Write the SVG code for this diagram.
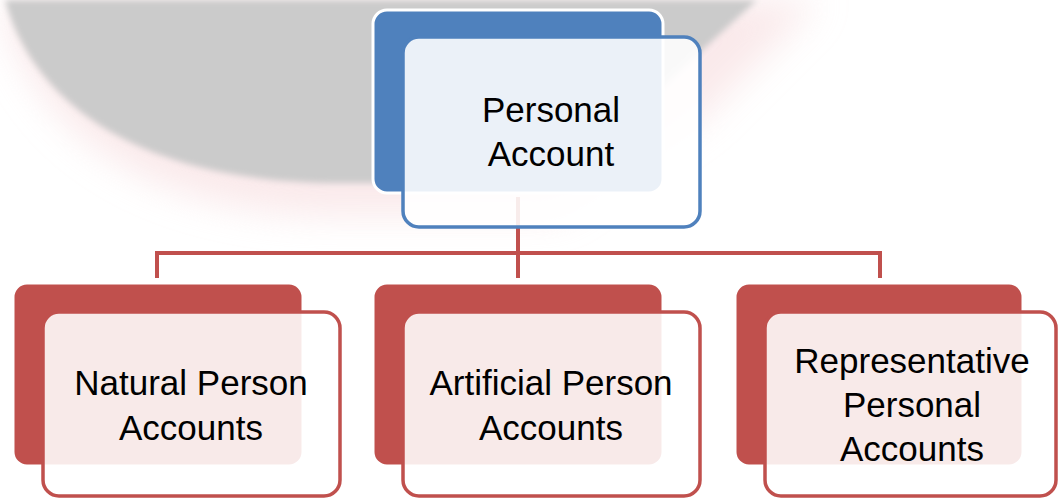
<svg xmlns="http://www.w3.org/2000/svg" width="1058" height="498" viewBox="0 0 1058 498">
<defs>
<filter id="blur" x="-20%" y="-20%" width="140%" height="140%"><feGaussianBlur stdDeviation="3"/></filter>
<filter id="glow" x="-30%" y="-30%" width="160%" height="160%"><feGaussianBlur stdDeviation="18"/></filter>
<style>
.txt{font-family:"Liberation Sans",Arial,sans-serif;font-size:35px;fill:#000;text-anchor:middle}
.bb{fill:#4F81BD;stroke:#fff;stroke-width:3}
.bf{fill:#fff;fill-opacity:0.89;stroke:#4F81BD;stroke-width:3.5}
.rb{fill:#C0504D;stroke:#fff;stroke-width:3}
.rf{fill:#fff;fill-opacity:0.88;stroke:#C0504D;stroke-width:3.5}
.conn{fill:none;stroke:#C0504D;stroke-width:4}
</style>
</defs>
<rect width="1058" height="498" fill="#fff"/>
<g id="background">
<path d="M0,0 C30,130 150,215 340,215 L560,215 L700,120 L820,0 Z" fill="#F6D8DA" opacity="0.55" filter="url(#glow)"/>
<path d="M5,0 C35,110 150,183 340,183 L560,183 L700,52 L757,0 Z" fill="#CBCBCB" filter="url(#blur)"/>
</g>
<g id="connectors">
<path class="conn" d="M518,197 V278"/>
<path class="conn" d="M157,278 V253 H880 V278"/>
</g>
<g id="node-personal-account">
<rect class="bb" x="373" y="10" width="290" height="183" rx="14"/>
<rect class="bf" x="403" y="37" width="297" height="190" rx="16"/>
<text class="txt" x="551" y="122">Personal</text>
<text class="txt" x="551" y="166">Account</text>
</g>
<g id="node-natural">
<rect class="rb" x="13" y="283" width="290" height="183" rx="14"/>
<rect class="rf" x="43" y="312" width="297" height="184" rx="16"/>
<text class="txt" x="191" y="395">Natural Person</text>
<text class="txt" x="191" y="440">Accounts</text>
</g>
<g id="node-artificial">
<rect class="rb" x="373" y="283" width="290" height="183" rx="14"/>
<rect class="rf" x="403" y="312" width="297" height="184" rx="16"/>
<text class="txt" x="551" y="395">Artificial Person</text>
<text class="txt" x="551" y="440">Accounts</text>
</g>
<g id="node-representative">
<rect class="rb" x="735" y="283" width="288" height="183" rx="14"/>
<rect class="rf" x="765" y="312" width="291" height="184" rx="16"/>
<text class="txt" x="912" y="373">Representative</text>
<text class="txt" x="912" y="417">Personal</text>
<text class="txt" x="912" y="461">Accounts</text>
</g>
</svg>
